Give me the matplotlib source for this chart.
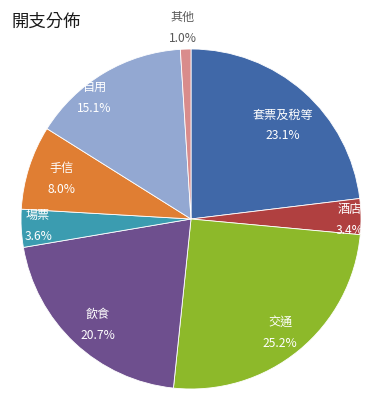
import numpy as np
import matplotlib
matplotlib.use("Agg")
import matplotlib.pyplot as plt

plt.rcParams['font.family'] = ['Noto Sans CJK TC', 'DejaVu Sans']

categories = ["套票及稅等", "酒店", "交通", "飲食", "場票", "手信", "自用", "其他"]
values = [23.1, 3.4, 25.2, 20.7, 3.6, 8.0, 15.1, 1.0]
colors = ["#4068A8", "#B04040", "#8DB92A", "#6E4F8E", "#3B9CB0", "#E07E33", "#93A8D2", "#D98C8C"]
label_r = [0.77, 0.935, 0.85, 0.83, 0.90, 0.80, 0.91, 1.13]
label_dang = [2.8, 1.1, 1.2, -1.8, 0.4, -0.4, -7.8, -1.0]
label_colors = ["white"] * 7 + ["#595959"]

fig = plt.figure(figsize=(3.76, 4.00), dpi=100)
ax = fig.add_axes([21 / 376, (400 - 219 - 170) / 400, 340 / 376, 340 / 400])
ax.pie(values, colors=colors, startangle=90, counterclock=False, radius=1,
       wedgeprops=dict(edgecolor="white", linewidth=0.6))
ax.set_xlim(-1, 1)
ax.set_ylim(-1, 1)
ax.axis("off")

total = sum(values)
cum = 0.0
for name, v, r, da, c in zip(categories, values, label_r, label_dang, label_colors):
    mid = (cum + v / 2) / total * 360.0 + da
    cum += v
    theta = np.deg2rad(90 - mid)
    x, y = r * np.cos(theta), r * np.sin(theta)
    if name == "其他":
        x, y = -0.05, 1.125
    ax.text(x, y, f"{name}\n{v:.1f}%", ha="center", va="center", color=c,
            fontsize=8.7, linespacing=1.8, clip_on=False)

fig.text(12 / 376, 1 - 22 / 400, "開支分佈", ha="left", va="center",
         fontsize=12.5, color="#1a1a1a", fontweight="medium")

fig.savefig("out.png", dpi=100)
